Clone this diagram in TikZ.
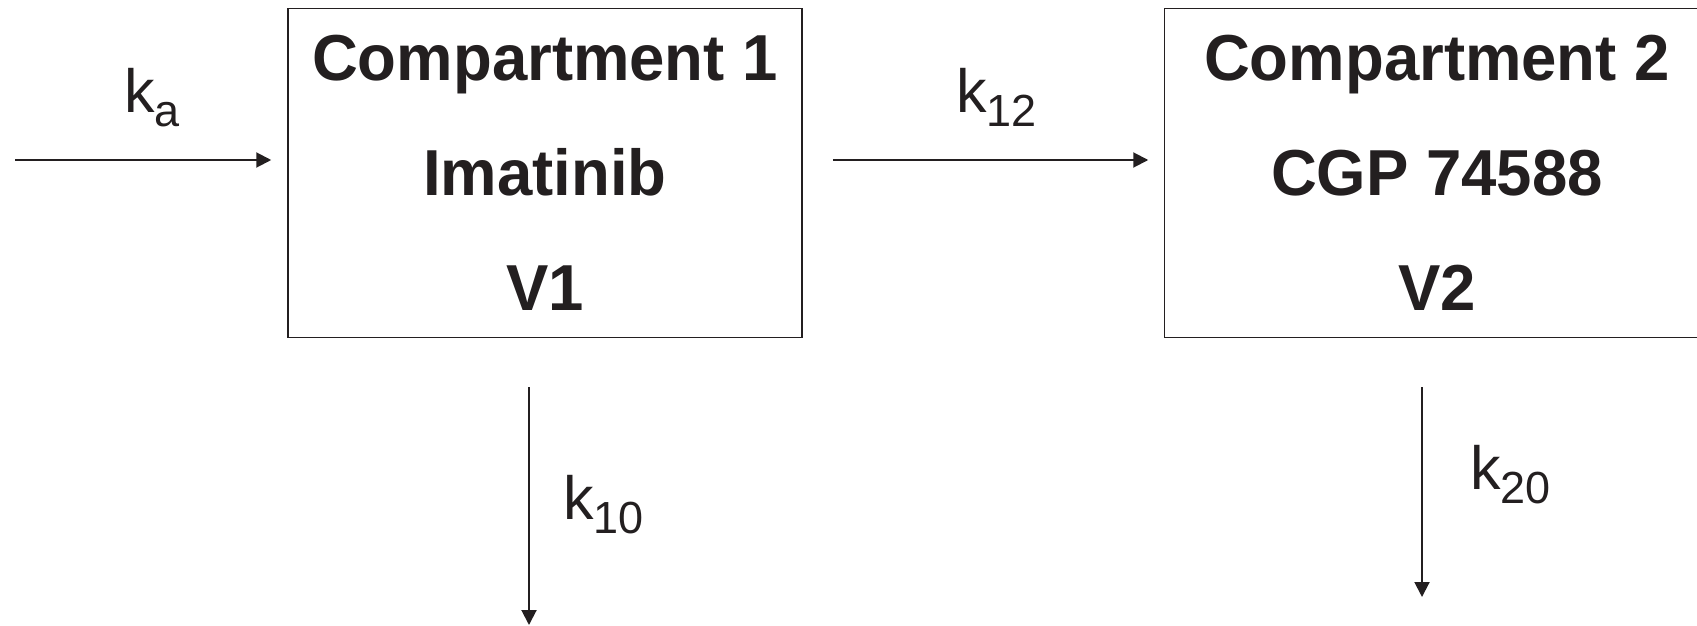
\documentclass[tikz,border=0pt]{standalone}
\usepackage{fontspec}
\setmainfont{Liberation Sans}
\newfontfamily\boxfont[FakeStretch=0.977]{Liberation Sans}
\usetikzlibrary{arrows.meta}
\definecolor{ink}{HTML}{231F20}
\begin{document}
\begin{tikzpicture}[x=1pt,y=-1pt,
  compbox/.style={draw=ink, line width=1.5pt, inner sep=0pt, align=center, text=ink,
    font=\boxfont\bfseries\fontsize{65}{115}\selectfont, minimum height=328.5pt},
  flow/.style={draw=ink, line width=2pt, -{Triangle[length=15pt,width=15pt]}},
  rate/.style={anchor=base west, inner sep=0pt, text=ink, font=\fontsize{61}{61}\selectfont}]
\useasboundingbox (0,0) rectangle (1697,626);
\clip (0,0) rectangle (1697,626);
\node[compbox, minimum width=514pt] (c1) at (545,173) {Compartment 1\\Imatinib\\V1};
\node[compbox, minimum width=545pt] (c2) at (1437,173) {Compartment 2\\CGP 74588\\V2};
\coordinate (in) at (15,160);
\coordinate (out1) at (529,625);
\coordinate (out2) at (1422,597);
\draw[flow, shorten >=16pt] (in) -- (in -| c1.west);
\draw[flow, shorten <=30pt, shorten >=15.5pt] (in -| c1.east) -- (in -| c2.west);
\draw[flow, shorten <=49pt] (out1 |- c1.south) -- (out1);
\draw[flow, shorten <=49pt] (out2 |- c2.south) -- (out2);
\node[rate] (ka) at (124,112.6) {k\raisebox{-14pt}{\fontsize{45}{45}\selectfont a}};
\node[rate] (k12) at (956,112.6) {k\raisebox{-14pt}{\fontsize{45}{45}\selectfont 12}};
\node[rate] (k10) at (563,519.5) {k\raisebox{-14pt}{\fontsize{45}{45}\selectfont 10}};
\node[rate] (k20) at (1470,489) {k\raisebox{-14pt}{\fontsize{45}{45}\selectfont 20}};
\end{tikzpicture}
\end{document}
